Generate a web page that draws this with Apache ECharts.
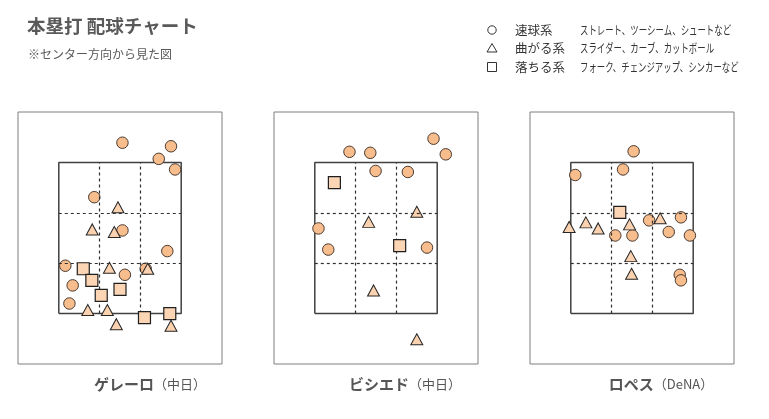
<!DOCTYPE html>
<html>
<head>
<meta charset="utf-8">
<script src="https://cdn.jsdelivr.net/npm/echarts@6/dist/echarts.min.js"></script>
<style>
html,body{margin:0;padding:0;background:#fff;}
#chart{width:769px;height:419px;}
</style>
</head>
<body>
<div id="chart"></div>
<script>
// ---- Data (strike zone coordinates: zone spans 0..3 in x and y; view from center field) ----
const playerNames = ['ゲレーロ', 'ビシエド', 'ロペス'];
const playerTeams = ['（中日）', '（中日）', '（DeNA）'];

const guerreroFast = [[1.56,3.39],[2.75,3.32],[2.45,3.07],[2.85,2.86],[0.87,2.31],[1.56,1.65],[2.66,1.24],[0.16,0.95],[1.62,0.77],[2.13,0.89],[0.34,0.56],[0.26,0.20]];
const guerreroBreaking = [[1.45,2.11],[0.82,1.67],[1.36,1.62],[1.24,0.91],[2.18,0.89],[0.71,0.07],[1.19,0.07],[1.41,-0.21],[2.75,-0.24]];
const guerreroSinking = [[0.60,0.89],[0.81,0.66],[1.50,0.48],[1.04,0.36],[2.10,-0.08],[2.72,0.00]];

const bichetteFast = [[2.91,3.47],[3.21,3.16],[0.85,3.21],[1.36,3.19],[1.49,2.83],[2.28,2.81],[0.09,1.69],[0.33,1.27],[2.75,1.31]];
const bichetteBreaking = [[2.50,2.02],[1.32,1.82],[1.44,0.46],[2.50,-0.51]];
const bichetteSinking = [[0.48,2.60],[2.08,1.35]];

const lopezFast = [[1.54,3.22],[1.28,2.86],[0.11,2.75],[1.92,1.85],[2.70,1.91],[2.40,1.62],[2.92,1.55],[1.09,1.55],[1.51,1.55],[2.67,0.77],[2.70,0.66]];
const lopezBreaking = [[-0.04,1.72],[0.37,1.81],[0.67,1.69],[1.44,1.77],[2.19,1.89],[1.47,1.14],[1.49,0.79]];
const lopezSinking = [[1.20,2.01]];

const legendNames = ['速球系', '曲がる系', '落ちる系'];
const legendDescs = ['ストレート、ツーシーム、シュートなど', 'スライダー、カーブ、カットボール', 'フォーク、チェンジアップ、シンカーなど'];

const fastSets = [guerreroFast, bichetteFast, lopezFast];
const breakingSets = [guerreroBreaking, bichetteBreaking, lopezBreaking];
const sinkingSets = [guerreroSinking, bichetteSinking, lopezSinking];

// ---- Build chart ----
const FONT = '"Noto Sans CJK JP", "Noto Sans", sans-serif';
const panelLefts = [18, 274, 530];
const grids = [], xAxes = [], yAxes = [], series = [];

panelLefts.forEach((left, i) => {
  grids.push({left: left, top: 112, width: 204, height: 252, show: true, borderColor: '#7f7f7f', borderWidth: 1, backgroundColor: 'transparent'});
  xAxes.push({type: 'value', gridIndex: i, min: -1, max: 4, show: false});
  yAxes.push({type: 'value', gridIndex: i, min: -1, max: 4, show: false});
  series.push({
    type: 'line', xAxisIndex: i, yAxisIndex: i, silent: true, symbol: 'none', z: 1,
    data: [[0,0],[3,0],[3,3],[0,3],[0,0]],
    lineStyle: {color: '#404040', width: 1.5},
    markLine: {
      silent: true, symbol: 'none', label: {show: false},
      lineStyle: {color: '#303030', width: 1.2, type: [3,3]},
      data: [
        [{coord: [1,0]}, {coord: [1,3]}],
        [{coord: [2,0]}, {coord: [2,3]}],
        [{coord: [0,1]}, {coord: [3,1]}],
        [{coord: [0,2]}, {coord: [3,2]}]
      ]
    }
  });
  series.push({
    type: 'scatter', xAxisIndex: i, yAxisIndex: i, data: fastSets[i], symbol: 'circle', symbolSize: 11.5, z: 3,
    itemStyle: {color: '#F8BD8D', borderColor: '#4a3a30', borderWidth: 1, opacity: 1}
  });
  series.push({
    type: 'scatter', xAxisIndex: i, yAxisIndex: i, data: breakingSets[i], symbol: 'triangle', symbolSize: [12, 11], z: 4,
    itemStyle: {color: '#FBD2AF', borderColor: '#262626', borderWidth: 1, opacity: 1}
  });
  series.push({
    type: 'scatter', xAxisIndex: i, yAxisIndex: i, data: sinkingSets[i], symbol: 'rect', symbolSize: 12, z: 5,
    itemStyle: {color: '#FCD5B4', borderColor: '#1f1f1f', borderWidth: 1.2, opacity: 1}
  });
});

const graphics = [
  {type: 'text', left: 27, top: 17, style: {text: '本塁打 配球チャート', font: 'bold 18.5px ' + FONT, fill: '#595959'}},
  {type: 'text', left: 28, top: 48, style: {text: '※センター方向から見た図', font: '12px ' + FONT, fill: '#595959'}},
  {type: 'circle', shape: {cx: 492, cy: 30, r: 4.2}, style: {fill: 'none', stroke: '#333', lineWidth: 1}},
  {type: 'polygon', shape: {points: [[492, 43.5], [497, 52], [487, 52]]}, style: {fill: 'none', stroke: '#333', lineWidth: 1}},
  {type: 'rect', shape: {x: 487.5, y: 62.5, width: 9, height: 9}, style: {fill: 'none', stroke: '#333', lineWidth: 1}}
];
const legendY = [30, 48.5, 67];
legendNames.forEach((n, i) => {
  graphics.push({type: 'text', x: 515, y: legendY[i], style: {text: n, font: '12.5px ' + FONT, fill: '#333', verticalAlign: 'middle'}});
  graphics.push({type: 'text', x: 580, y: legendY[i], scaleX: 0.7, style: {text: legendDescs[i], font: '12px ' + FONT, fill: '#333', verticalAlign: 'middle'}});
});
const nameCenters = [150, 405, 661];
playerNames.forEach((p, i) => {
  graphics.push({type: 'text', x: nameCenters[i], y: 384, style: {
    text: '{a|' + p + '}{b|' + playerTeams[i] + '}',
    align: 'center', verticalAlign: 'middle',
    rich: {
      a: {fontFamily: FONT, fontSize: 15, fontWeight: 'bold', fill: '#555', color: '#555'},
      b: {fontFamily: FONT, fontSize: 13, fontWeight: 'normal', fill: '#555', color: '#555'}
    }
  }});
});

const chart = echarts.init(document.getElementById('chart'), null, {renderer: 'canvas'});
chart.setOption({
  animation: false,
  backgroundColor: '#ffffff',
  grid: grids,
  xAxis: xAxes,
  yAxis: yAxes,
  series: series,
  graphic: graphics
});
</script>
</body>
</html>
